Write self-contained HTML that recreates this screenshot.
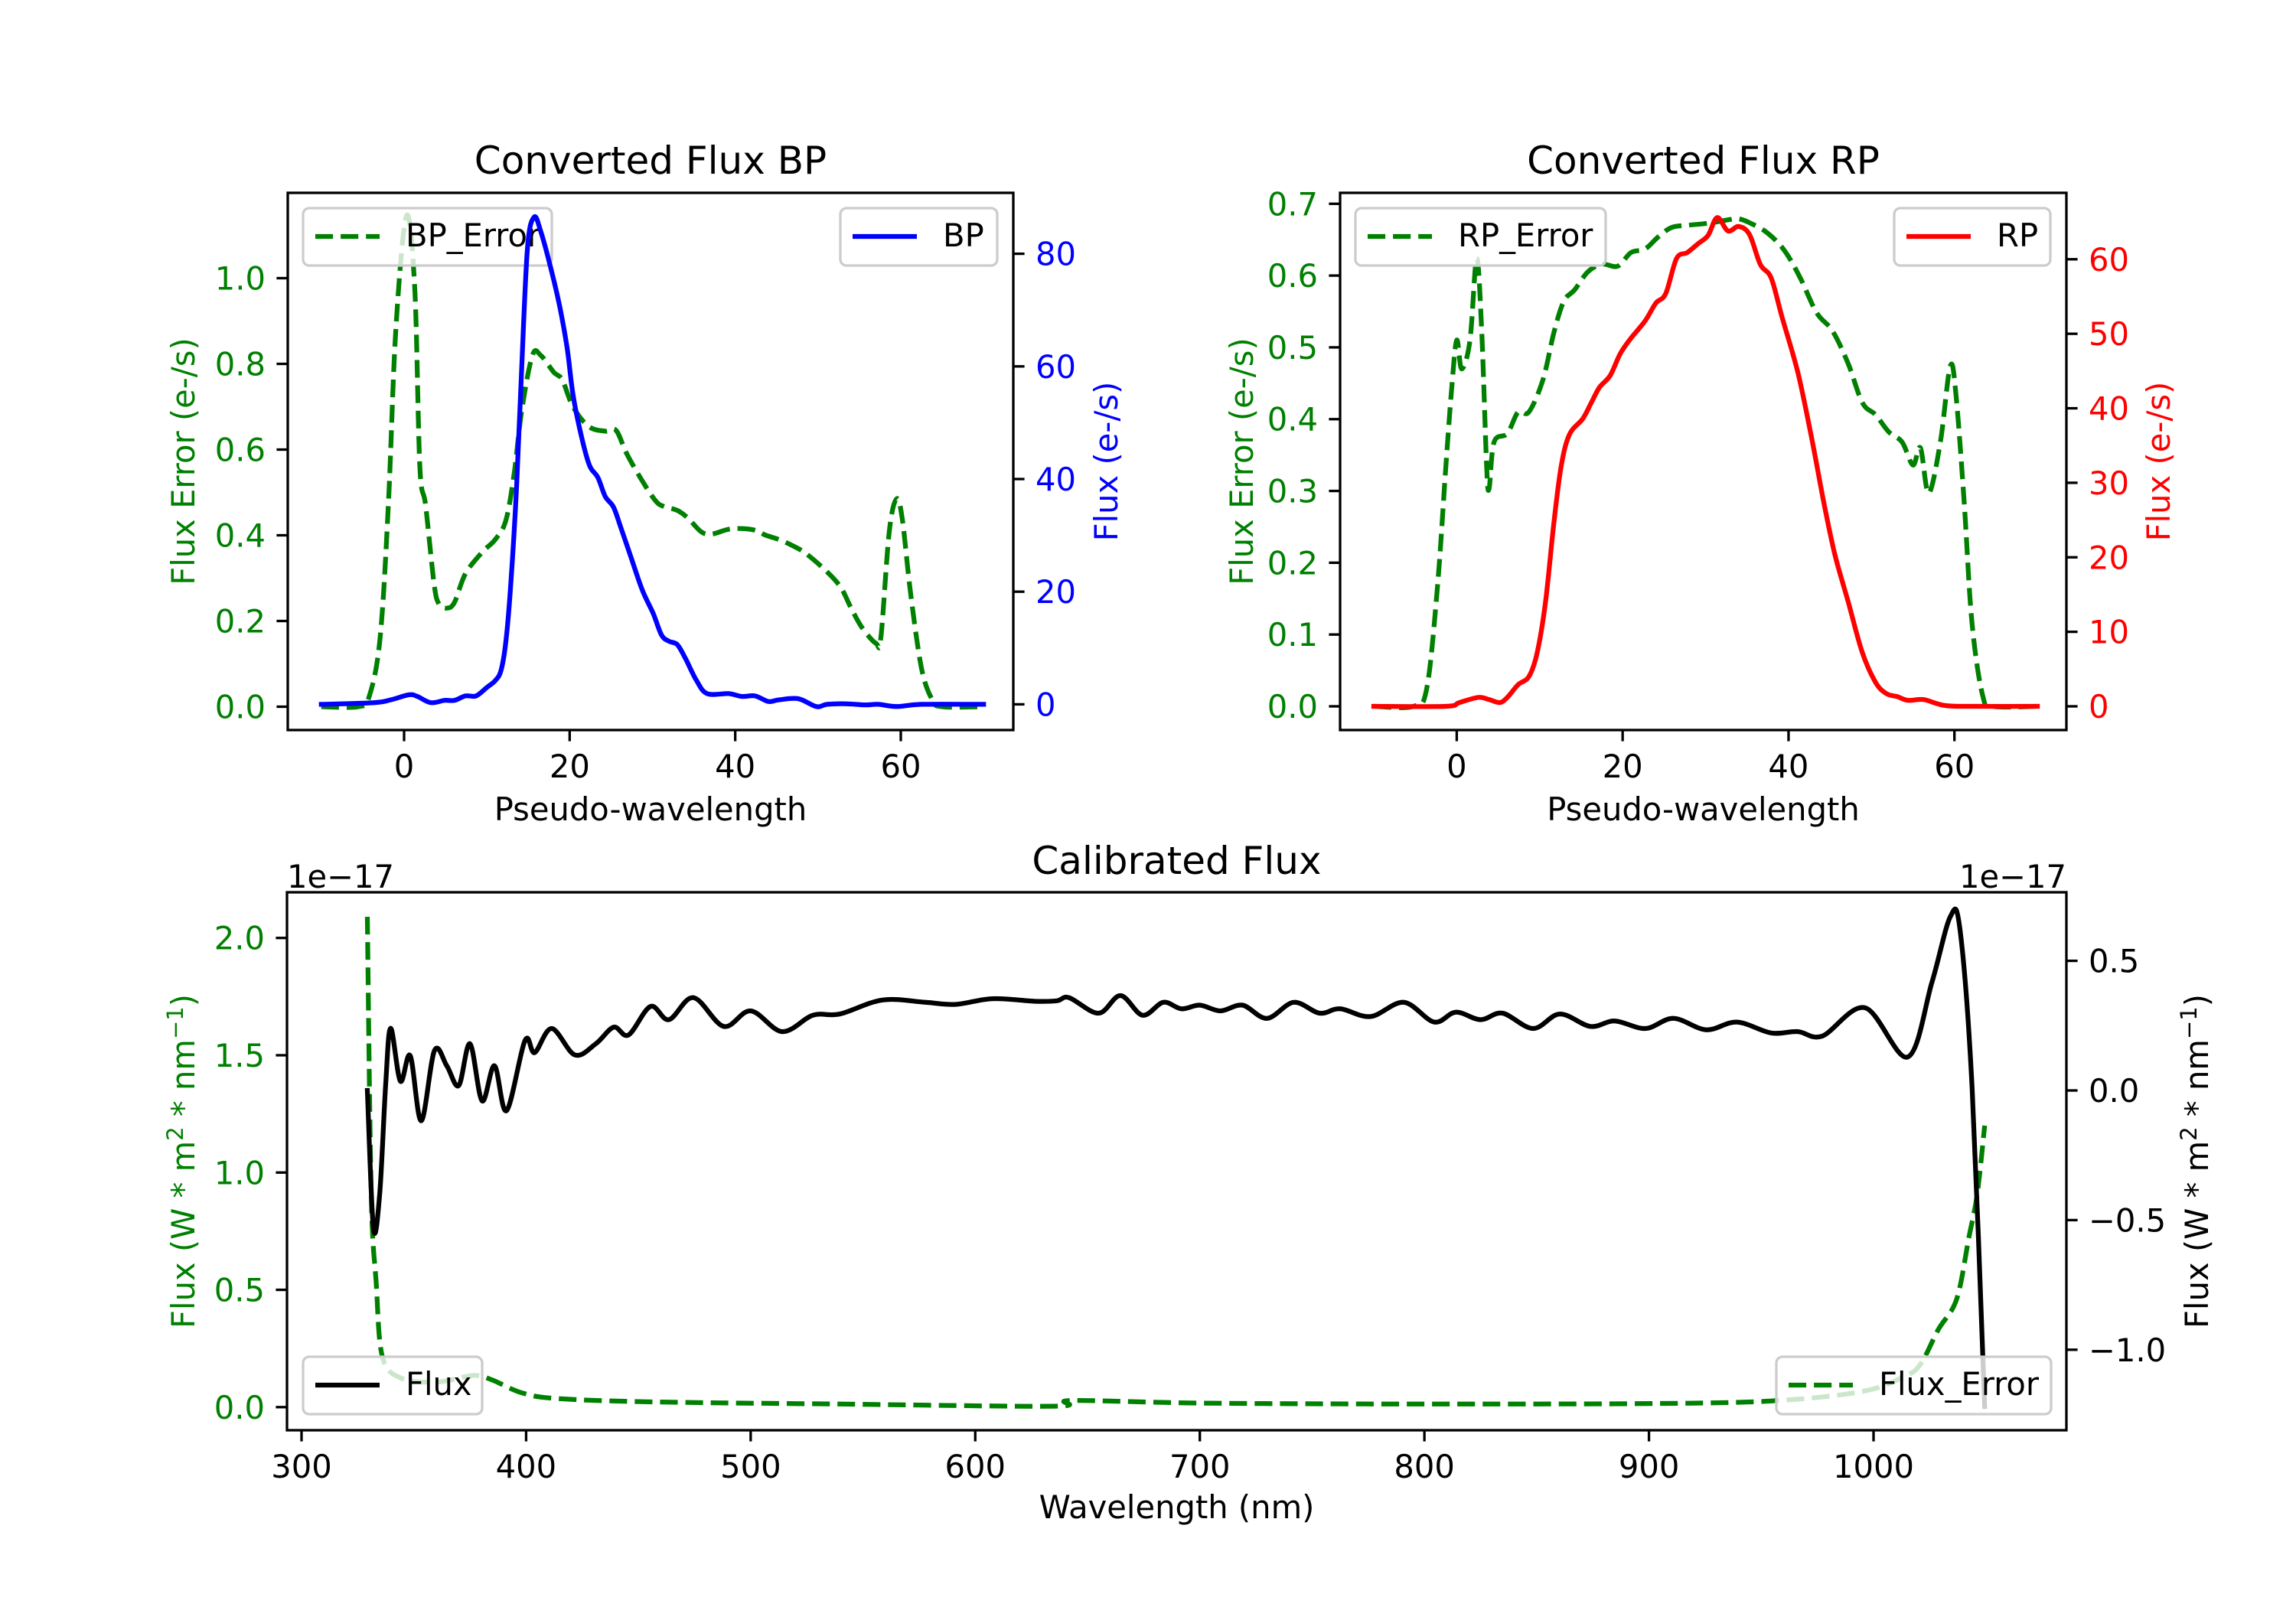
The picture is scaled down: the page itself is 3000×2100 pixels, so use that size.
<!DOCTYPE html>
<html><head><meta charset="utf-8"><style>
html,body{margin:0;padding:0;background:#fff}
svg{display:block;font-family:"DejaVu Sans","Liberation Sans",sans-serif}
</style></head><body>
<svg id="fig" width="3000" height="2100" viewBox="0 0 3000 2100" xmlns="http://www.w3.org/2000/svg"></svg>
<script>
// ---- BP panel data ----
const bpX=[-10,-3.6,-1.6,0.6,1.6,3.2,4.9,6.1,7.4,8.7,10,11,11.7,12.3,12.9,13.6,14.2,14.9,15.7,16.5,17.8,18.8,19.7,20.4,21.4,22.4,23.4,24.3,25.3,26.2,27.5,28.8,30.1,31.1,32,33,34,35.3,36.6,39.2,40.8,42.4,44,45.3,47.6,49.8,51.1,53.4,55.7,57.3,59.5,62.5,70];
const bpY=[0,0.3,0.8,1.7,1.4,0.3,0.7,0.7,1.5,1.5,3,4.2,6,11.2,21.6,39,59.5,81,86.5,84,77,70.6,63.2,55,47.7,42.4,40.3,36.9,35,31.3,25.7,20.2,16.1,12.3,11.2,10.6,8.1,4.3,1.9,1.9,1.4,1.5,0.5,0.8,1,-0.4,0,0.1,-0.1,0,-0.4,0,0];
const bpErrX=[-10,-5.5,-4.2,-2.9,-1.9,-1,0.3,1.3,1.9,2.6,3.6,4.2,5.2,6.1,7.4,9.4,11,12.3,13.3,14.2,15.5,16.5,18.1,19.1,20.4,22.3,24.3,25.6,26.9,28.8,30.4,31.4,33,34.3,35.9,37.2,39.5,42.1,43.7,45.3,46.9,48.5,50.8,52.7,54,55.3,57,57.6,58.6,59.5,60.2,61.2,62.5,63.8,65,70];
const bpErrY=[0,0,0.025,0.16,0.47,0.88,1.146,0.97,0.56,0.47,0.29,0.24,0.23,0.244,0.31,0.36,0.39,0.435,0.545,0.69,0.82,0.82,0.78,0.763,0.7,0.654,0.643,0.645,0.59,0.526,0.48,0.467,0.458,0.44,0.408,0.403,0.415,0.413,0.4,0.39,0.376,0.358,0.32,0.28,0.23,0.185,0.148,0.162,0.408,0.485,0.435,0.262,0.09,0.016,0,0];
// ---- RP panel data ----
const rpX=[-10,-1.3,0.3,2.6,3.9,5.2,6.1,7.4,8.7,9.7,10.7,11.7,12.6,13.6,15.2,16.2,17.2,18.5,19.7,21,22.7,24,25.2,26.5,27.8,29.1,30.3,31.4,32.7,34,35.3,36.6,37.9,39.2,41.1,42.7,44.3,45.6,47.2,48.9,50.5,51.8,53.1,54.4,56.3,58.9,62.8,70];
const rpY=[0,0,0.5,1.2,0.9,0.5,1.2,2.9,4,7.2,14,24.5,32.3,36.5,38.6,40.7,42.8,44.4,47.3,49.4,51.7,54.1,55.4,60.1,60.9,62.1,63.2,65.6,63.8,64.4,63.3,59.3,57.5,52.3,44.9,36.5,27.1,20.3,14,7.2,3.2,1.7,1.3,0.8,0.9,0.1,0,0];
const rpErrX=[-10,-5.2,-3.6,-2.3,-1.3,-0.6,0,0.6,1.6,2.4,3,3.6,3.9,4.5,6.1,7.4,8.7,10.4,11.7,12.9,14.2,15.8,17.5,19.4,21,22.7,24.3,25.9,27.8,30.4,32.4,34,35.6,37.5,39.5,41.4,43.4,45.3,47.2,48.9,50.5,52.1,53.7,55,55.9,56.9,58.3,59.5,60.2,61.2,62.1,63.4,64.7,70];
const rpErrY=[0,0,0.026,0.17,0.336,0.444,0.51,0.47,0.51,0.624,0.526,0.336,0.303,0.368,0.38,0.41,0.41,0.455,0.52,0.564,0.58,0.605,0.616,0.613,0.632,0.637,0.654,0.667,0.67,0.673,0.677,0.679,0.672,0.659,0.635,0.597,0.548,0.523,0.477,0.423,0.406,0.382,0.368,0.336,0.36,0.297,0.368,0.474,0.432,0.28,0.118,0.015,0,0];
// ---- Calibrated panel data (units of 1e-17) ----
const calX=[329.3,332,334.8,337.5,339.7,344,348.4,353.3,359.2,364.7,370,375,380.4,385.9,391.3,399.5,403.8,411.4,421.7,431,439,445.6,455.4,463.6,474.5,488,500,514,527.7,539.7,558.7,577.7,591.3,607.6,626.6,636.4,641.8,654.9,664.7,674.5,683.7,691.8,700,709.2,719,729.9,741.8,753.3,762.5,776,790.8,804.3,814,825,834.8,848.4,860.3,873.9,884.8,898.4,910.9,925.5,939.1,954.3,966.3,977.2,996.2,1015.2,1026,1034.2,1038.5,1043.9,1049.5];
const calY=[0,-0.53,-0.4,0.027,0.24,0.036,0.134,-0.117,0.154,0.095,0.019,0.18,-0.04,0.095,-0.078,0.193,0.146,0.239,0.137,0.18,0.244,0.214,0.324,0.273,0.358,0.247,0.307,0.227,0.29,0.295,0.349,0.34,0.332,0.354,0.344,0.346,0.358,0.298,0.366,0.29,0.34,0.315,0.329,0.307,0.329,0.278,0.34,0.298,0.315,0.285,0.34,0.264,0.302,0.273,0.298,0.239,0.295,0.247,0.268,0.239,0.278,0.234,0.264,0.222,0.227,0.21,0.319,0.129,0.417,0.671,0.62,0.01,-1.219];
const calErrX=[329.3,331,333.2,335.9,344,360.3,376.6,384.8,398.4,414.7,458.2,539.7,634.8,643,702.7,811.4,920.1,963.6,996.2,1012.5,1020.7,1028.8,1037,1042.4,1046.2,1049.5];
const calErrY=[2.09,0.912,0.537,0.219,0.125,0.107,0.135,0.116,0.06,0.036,0.022,0.013,0.004,0.028,0.017,0.013,0.017,0.032,0.069,0.125,0.18,0.33,0.46,0.72,0.91,1.2];
// tick labels
const bpXTicks=[0,20,40,60];
const bpLTicks=[0,0.2,0.4,0.6,0.8,1.0];
const bpRTicks=[0,20,40,60,80];
const rpXTicks=[0,20,40,60];
const rpLTicks=[0,0.1,0.2,0.3,0.4,0.5,0.6,0.7];
const rpRTicks=[0,10,20,30,40,50,60];
const calXTicks=[300,400,500,600,700,800,900,1000];
const calLTicks=[0,0.5,1.0,1.5,2.0];
const calRTicks=[-1.0,-0.5,0.0,0.5];

const NS="http://www.w3.org/2000/svg";
const svg=document.getElementById('fig');
function mk(tag,attrs,parent){const e=document.createElementNS(NS,tag);for(const k in attrs)e.setAttribute(k,attrs[k]);(parent||svg).appendChild(e);return e;}
function lin(d0,d1,p0,p1){return v=>p0+(v-d0)*(p1-p0)/(d1-d0);}
function fmt(v,dec){return (v<0?'\u2212':'')+Math.abs(v).toFixed(dec);}
const FS=41.67;

function drawLine(g,xs,ys,sx,sy,color,dashed,name){
  const P=xs.map((x,i)=>[sx(x),sy(ys[i])]);
  let d='M'+P[0][0].toFixed(1)+','+P[0][1].toFixed(1);
  const k=0.5/3;
  for(let i=0;i<P.length-1;i++){
    const p0=P[Math.max(0,i-1)],p1=P[i],p2=P[i+1],p3=P[Math.min(P.length-1,i+2)];
    const c1x=p1[0]+(p2[0]-p0[0])*k,c1y=p1[1]+(p2[1]-p0[1])*k;
    const c2x=p2[0]-(p3[0]-p1[0])*k,c2y=p2[1]-(p3[1]-p1[1])*k;
    d+='C'+c1x.toFixed(1)+','+c1y.toFixed(1)+' '+c2x.toFixed(1)+','+c2y.toFixed(1)+' '+p2[0].toFixed(1)+','+p2[1].toFixed(1);
  }
  const p=mk('path',{d:d,fill:'none',stroke:color,'stroke-width':6.25,'stroke-linejoin':'round','stroke-linecap':dashed?'butt':'square'},g);
  if(dashed)p.setAttribute('stroke-dasharray','23.1 10');
  
  
}
function legend(g,x,y,w,label,color,dashed,name){
  const lg=mk('g',{},g);
  
  
  mk('rect',{x:x,y:y,width:w,height:75,rx:8,fill:'rgba(255,255,255,0.8)',stroke:'#cccccc','stroke-width':3.3},lg);
  const l=mk('line',{x1:x+16,y1:y+37,x2:x+100,y2:y+37,stroke:color,'stroke-width':6.25},lg);
  if(dashed)l.setAttribute('stroke-dasharray','23.1 10');
  const t=mk('text',{x:x+134,y:y+50,'font-size':FS,fill:'#000'},lg);t.textContent=label;
}
function yTicks(g,ticks,sy,xEdge,side,color,dec,name){
  for(const v of ticks){const y=sy(v);
    const dir=side==='left'?-1:1;
    mk('line',{x1:xEdge,y1:y,x2:xEdge+dir*14.6,y2:y,stroke:'#000','stroke-width':3.3},g);
    const t=mk('text',{x:xEdge+dir*29,y:y+15,'font-size':FS,fill:color,'text-anchor':side==='left'?'end':'start'},g);
    t.textContent=fmt(v,dec);
    
    
  }
}
function xTicks(g,ticks,sx,yEdge,name){
  for(const v of ticks){const x=sx(v);
    mk('line',{x1:x,y1:yEdge,x2:x,y2:yEdge+14.6,stroke:'#000','stroke-width':3.3},g);
    const t=mk('text',{x:x,y:yEdge+62,'font-size':FS,fill:'#000','text-anchor':'middle'},g);
    t.textContent=String(v);
    
    
  }
}
function text(g,x,y,s,opts,name){const t=mk('text',Object.assign({x:x,y:y,'font-size':FS,fill:'#000','text-anchor':'middle'},opts||{}),g);t.textContent=s;return t;}
function vlabel(g,x,y,s,color,name){const t=text(g,0,0,s,{fill:color,transform:'translate('+x+','+y+') rotate(-90)'},name);return t;}

// ===== BP panel =====
(function(){
  const L=376,R=1324,T=252,B=954;
  const g=mk('g',{});
  const sx=lin(0,60,528,1177), syL=lin(0,1,923.5,363.5), syR=lin(0,80,920.4,331.6);
  drawLine(g,bpErrX,bpErrY,sx,syL,'#008000',true,'bp-error-line');
  legend(g,396,272,325,'BP_Error','#008000',true,'bp-error-legend');
  drawLine(g,bpX,bpY,sx,syR,'#0000ff',false,'bp-line');
  legend(g,1098,272,205,'BP','#0000ff',false,'bp-legend');
  mk('rect',{x:L,y:T,width:R-L,height:B-T,fill:'none',stroke:'#000','stroke-width':3.3},g);
  xTicks(g,bpXTicks,sx,B,'bp-x-tick');
  yTicks(g,bpLTicks,syL,L,'left','#008000',1,'bp-left-tick');
  yTicks(g,bpRTicks,syR,R,'right','#0000ff',0,'bp-right-tick');
  text(g,(L+R)/2,227,'Converted Flux BP',{'font-size':50},'bp-title');
  text(g,(L+R)/2,1072,'Pseudo-wavelength',{},'bp-x-axis-title');
  vlabel(g,254,(T+B)/2,'Flux Error (e-/s)','#008000','bp-left-axis-title');
  vlabel(g,1460,(T+B)/2,'Flux (e-/s)','#0000ff','bp-right-axis-title');
})();
// ===== RP panel =====
(function(){
  const L=1751,R=2700,T=252,B=954;
  const g=mk('g',{});
  const sx=lin(0,60,1903.4,2553.7), syL=lin(0,0.7,923,266.3), syR=lin(0,60,923,338.8);
  drawLine(g,rpErrX,rpErrY,sx,syL,'#008000',true,'rp-error-line');
  legend(g,1771,272,327,'RP_Error','#008000',true,'rp-error-legend');
  drawLine(g,rpX,rpY,sx,syR,'#ff0000',false,'rp-line');
  legend(g,2475,272,204,'RP','#ff0000',false,'rp-legend');
  mk('rect',{x:L,y:T,width:R-L,height:B-T,fill:'none',stroke:'#000','stroke-width':3.3},g);
  xTicks(g,rpXTicks,sx,B,'rp-x-tick');
  yTicks(g,rpLTicks,syL,L,'left','#008000',1,'rp-left-tick');
  yTicks(g,rpRTicks,syR,R,'right','#ff0000',0,'rp-right-tick');
  text(g,(L+R)/2,227,'Converted Flux RP',{'font-size':50},'rp-title');
  text(g,(L+R)/2,1072,'Pseudo-wavelength',{},'rp-x-axis-title');
  vlabel(g,1637,(T+B)/2,'Flux Error (e-/s)','#008000','rp-left-axis-title');
  vlabel(g,2835,(T+B)/2,'Flux (e-/s)','#ff0000','rp-right-axis-title');
})();
// ===== Calibrated panel =====
(function(){
  const L=375,R=2700,T=1166,B=1869;
  const g=mk('g',{});
  const sx=lin(300,1000,394,2448), syL=lin(0,2,1838.8,1225.7), syR=lin(0,0.5,1425,1255.6);
  drawLine(g,calErrX,calErrY,sx,syL,'#008000',true,'flux-error-line');
  legend(g,396,1773,234,'Flux','#000',false,'flux-legend');
  drawLine(g,calX,calY,sx,syR,'#000',false,'flux-line');
  legend(g,2321,1773,359,'Flux_Error','#008000',true,'flux-error-legend');
  mk('rect',{x:L,y:T,width:R-L,height:B-T,fill:'none',stroke:'#000','stroke-width':3.3},g);
  xTicks(g,calXTicks,sx,B,'cal-x-tick');
  yTicks(g,calLTicks,syL,L,'left','#008000',1,'cal-left-tick');
  yTicks(g,calRTicks,syR,R,'right','#000',1,'cal-right-tick');
  text(g,(L+R)/2,1142,'Calibrated Flux',{'font-size':50},'cal-title');
  text(g,(L+R)/2,1984,'Wavelength (nm)',{},'cal-x-axis-title');
  text(g,375,1160,'1e\u221217',{'text-anchor':'start'},'cal-left-offset-text');
  text(g,2700,1160,'1e\u221217',{'text-anchor':'end'},'cal-right-offset-text');
  function supLabel(x,color,name){
    const t=mk('text',{x:0,y:0,'font-size':FS,fill:color,'text-anchor':'middle',transform:'translate('+x+','+((T+B)/2)+') rotate(-90)'},g);
    
    
    const parts=[['Flux (W * m',0],['2',1],[' * nm',0],['\u22121',1],[')',0]];
    for(const [s,sup] of parts){const sp=mk('tspan',sup?{'font-size':29,dy:-15}:{dy:0},t);
      if(!sup&&t.childNodes.length>1){sp.setAttribute('dy',15);}
      sp.textContent=s;}
    return t;
  }
  supLabel(254,'#008000','cal-left-axis-title');
  supLabel(2885,'#000','cal-right-axis-title');
})();
</script>
</body></html>
